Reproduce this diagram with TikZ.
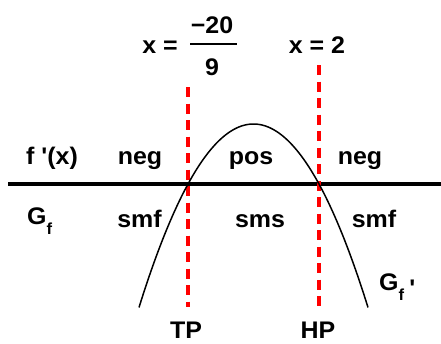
\documentclass[tikz,border=0pt]{standalone}
\usepackage{fontspec}
\setmainfont{Liberation Sans}
\begin{document}
\begin{tikzpicture}[x=1pt,y=-1pt,
  lbl/.style={font=\fontsize{24}{28}\selectfont\bfseries, inner sep=0pt, anchor=base},
  lblw/.style={lbl, anchor=base west},
  redline/.style={draw=red, line width=3.5pt, dash pattern=on 10pt off 6.5pt},
  axisline/.style={line width=3.2pt},
  curve/.style={line width=1.5pt}]
\useasboundingbox (0,0) rectangle (441,343);
\newcommand\wx[1]{\scalebox{1.04}[1]{#1}}
\newcommand\sbf{\raisebox{-10pt}{\fontsize{16}{16}\selectfont f}}
% axis
\coordinate (axL) at (8,184);
\coordinate (axR) at (441,184);
\draw[axisline] (axL) -- (axR);
% red dashed lines
\coordinate (tpTop) at (188,87);
\coordinate (tpBot) at (188,307);
\coordinate (hpTop) at (319,65);
\coordinate (hpBot) at (319,307);
\draw[redline] (tpTop) -- (tpBot);
\draw[redline] (hpTop) -- (hpBot);
% parabola
\draw[curve] plot[domain=139:368, samples=120] (\x, {124+0.01399*(\x-253.5)^2});
% top labels
\node[lbl] (xeq) at (160,53) {\wx{x =}};
\node[lbl] (num) at (212,33) {\wx{−20}};
\node[lbl] (den) at (212,75) {\wx{9}};
\coordinate (barL) at (190,44);
\coordinate (barR) at (237,44);
\draw[line width=2pt] (barL) -- (barR);
\node[lbl] (xtwo) at (317,53) {\wx{x = 2}};
% row 1
\node[lbl] (fp) at (52,164) {\wx{f \textquotesingle(x)}};
\node[lbl] (neg1) at (140,164) {\wx{neg}};
\node[lbl] (pos) at (251,164) {\wx{pos}};
\node[lbl] (neg2) at (360,164) {\wx{neg}};
% row 2
\node[lblw] (gf) at (27,224) {\wx{G\sbf}};
\node[lbl] (smf1) at (139.5,227) {\wx{smf}};
\node[lbl] (sms) at (260,227) {\wx{sms}};
\node[lbl] (smf2) at (374,227) {\wx{smf}};
% G_f'
\node[lblw] (gfp) at (379,290) {\wx{G\sbf\hspace{5pt}\raisebox{-6pt}{\textquotesingle}}};
% bottom
\node[lbl] (tp) at (186,338) {\wx{TP}};
\node[lbl] (hp) at (318,338) {\wx{HP}};
\end{tikzpicture}
\end{document}
